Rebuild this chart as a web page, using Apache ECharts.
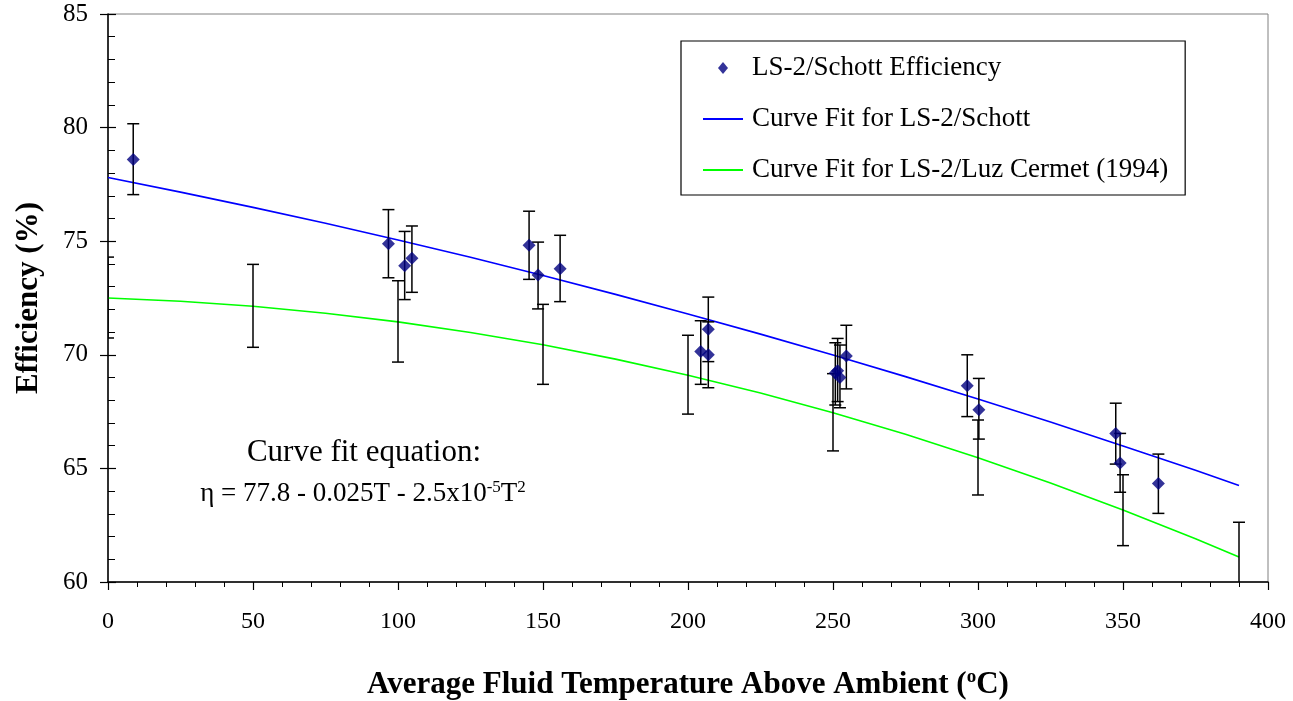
<!DOCTYPE html>
<html>
<head>
<meta charset="utf-8">
<script src="https://cdn.jsdelivr.net/npm/echarts@6/dist/echarts.min.js"></script>
<style>
html,body{margin:0;padding:0;background:#fff;overflow:hidden;width:1293px;height:701px;}
#chart{width:1293px;height:701px;display:block;}
</style>
</head>
<body>
<div id="chart"></div>
<script>
// ---- data ----
const schottT    = [8.7, 96.7, 102.3, 104.8, 145.2, 148.3, 155.9, 204.4, 207.0, 207.0, 250.8, 251.6, 252.4, 254.6, 296.3, 300.3, 347.5, 349.0, 362.2];
const schottEff  = [78.6, 74.89, 73.92, 74.25, 74.82, 73.51, 73.79, 70.15, 71.12, 70.0, 69.2, 69.3, 69.0, 69.95, 68.64, 67.58, 66.54, 65.24, 64.33];
const schottLow  = [77.05, 73.39, 72.43, 72.75, 73.32, 72.02, 72.34, 68.70, 69.70, 68.55, 67.79, 67.94, 67.67, 68.50, 67.28, 66.29, 65.19, 63.95, 63.02];
const schottHigh = [80.17, 76.39, 75.43, 75.67, 76.32, 74.96, 75.26, 71.50, 72.54, 71.45, 70.53, 70.72, 70.43, 71.30, 70.00, 68.96, 67.87, 66.54, 65.63];

const luzT    = [0, 50, 100, 150, 200, 250, 300, 350, 390];
const luzLow  = [70.74, 70.33, 69.68, 68.70, 67.39, 65.77, 63.83, 61.60, 59.55];
const luzHigh = [74.30, 73.98, 73.26, 72.22, 70.86, 69.17, 67.13, 64.72, 62.63];

const fitT      = [0, 25, 50, 75, 100, 125, 150, 175, 200, 225, 250, 275, 300, 325, 350, 375, 390];
const fitSchott = [77.80, 77.16, 76.49, 75.79, 75.05, 74.29, 73.49, 72.66, 71.80, 70.91, 69.99, 69.04, 68.05, 67.04, 65.99, 64.92, 64.25];
const fitLuz    = [72.50, 72.36, 72.14, 71.83, 71.45, 70.98, 70.44, 69.81, 69.10, 68.32, 67.45, 66.50, 65.47, 64.36, 63.17, 61.90, 61.10];

const seriesNames = ['LS-2/Schott Efficiency', 'Curve Fit for LS-2/Schott', 'Curve Fit for LS-2/Luz Cermet (1994)'];
const xTitle = 'Average Fluid Temperature Above Ambient (';
const yTitle = 'Efficiency (%)';

// ---- build ----
const serif = '"Liberation Serif", "DejaVu Serif", serif';
const pts = schottT.map((t, i) => [t, schottEff[i]]);
const schottBars = schottT.map((t, i) => [t, schottLow[i], schottHigh[i]]);
const luzBars = luzT.map((t, i) => [t, luzLow[i], luzHigh[i]]);
const fitS = fitT.map((t, i) => [t, fitSchott[i]]);
const fitL = fitT.map((t, i) => [t, fitLuz[i]]);

function errRender(params, api) {
  const x = api.value(0);
  const lo = api.coord([x, api.value(1)]);
  const hi = api.coord([x, api.value(2)]);
  const hw = 6;
  const style = { stroke: '#000', lineWidth: 1.5, fill: null };
  return {
    type: 'group',
    children: [
      { type: 'line', shape: { x1: lo[0], y1: lo[1], x2: hi[0], y2: hi[1] }, style: style },
      { type: 'line', shape: { x1: lo[0] - hw, y1: lo[1], x2: lo[0] + hw, y2: lo[1] }, style: style },
      { type: 'line', shape: { x1: hi[0] - hw, y1: hi[1], x2: hi[0] + hw, y2: hi[1] }, style: style }
    ]
  };
}

const diamondIcon = 'path://M5,0L10,6L5,12L0,6Z';
const lineIcon = 'path://M0,0L40,0L40,1.8L0,1.8Z';

const chart = echarts.init(document.getElementById('chart'), null, { renderer: 'canvas', width: 1293, height: 701 });
chart.setOption({
  backgroundColor: '#fff',
  animation: false,
  grid: { left: 108, right: 25, top: 14, bottom: 119, containLabel: false, outerBoundsMode: 'none',
          show: true, borderColor: '#808080', borderWidth: 1 },
  xAxis: {
    type: 'value', min: 0, max: 400, interval: 50,
    axisLine: { lineStyle: { color: '#000', width: 1.5 } },
    axisTick: { show: true, length: 8, lineStyle: { color: '#000', width: 1.2 } },
    minorTick: { show: true, splitNumber: 5, length: 5, lineStyle: { color: '#000', width: 1 } },
    splitLine: { show: false },
    axisLabel: { color: '#000', fontFamily: serif, fontSize: 24, margin: 28 },
    name: xTitle + '{sup|o}C)',
    nameLocation: 'middle', nameGap: 86,
    nameTextStyle: {
      color: '#000', fontFamily: serif, fontSize: 31, fontWeight: 'bold',
      rich: { sup: { fontFamily: serif, fontSize: 19, fontWeight: 'bold', verticalAlign: 'top', padding: [0, 0, 14, 0], color: '#000' } }
    }
  },
  yAxis: [{
    type: 'value', min: 60, max: 85, interval: 5,
    axisLine: { show: true, lineStyle: { color: '#000', width: 1.5 } },
    axisTick: { show: true, length: 8, lineStyle: { color: '#000', width: 1.2 } },
    splitLine: { show: false },
    axisLabel: { color: '#000', fontFamily: serif, fontSize: 25, margin: 20 },
    name: yTitle, nameLocation: 'middle', nameGap: 64, nameRotate: 90,
    nameTextStyle: { color: '#000', fontFamily: serif, fontSize: 31, fontWeight: 'bold' }
  }, {
    type: 'value', min: 60, max: 85, interval: 5, position: 'left',
    axisLine: { show: false },
    axisTick: { show: true, inside: true, length: 8, lineStyle: { color: '#000', width: 1.2 } },
    minorTick: { show: true, splitNumber: 5, length: 7, lineStyle: { color: '#000', width: 1 } },
    splitLine: { show: false },
    axisLabel: { show: false }
  }],
  legend: {
    data: [
      { name: seriesNames[0], icon: diamondIcon },
      { name: seriesNames[1], icon: lineIcon },
      { name: seriesNames[2], icon: lineIcon }
    ],
    orient: 'vertical',
    left: 681, top: 41,
    padding: [12, 17, 10, 22],
    itemWidth: 40, itemHeight: 12, itemGap: 21,
    symbolKeepAspect: true,
    borderColor: '#000', borderWidth: 1.2,
    backgroundColor: '#fff',
    textStyle: { color: '#000', fontFamily: serif, fontSize: 27, lineHeight: 30, padding: [0, 0, 0, 4] },
    selectedMode: false
  },
  graphic: [
    { type: 'text', x: 364, y: 453, style: { text: 'Curve fit equation:', font: '31px ' + serif, fill: '#000', textAlign: 'center', textVerticalAlign: 'middle' } },
    { type: 'text', x: 363, y: 494, style: {
        text: 'η = 77.8 - 0.025T - 2.5x10{sup|-5}T{sup|2}',
        font: '27px ' + serif, fill: '#000', textAlign: 'center', textVerticalAlign: 'middle',
        rich: { sup: { fontFamily: serif, fontSize: 17, verticalAlign: 'top', padding: [0, 0, 12, 0], fill: '#000' } }
    } }
  ],
  series: [
    {
      name: seriesNames[1], type: 'line', data: fitS, showSymbol: false, symbol: 'none',
      lineStyle: { color: '#0000ff', width: 1.6 }, itemStyle: { color: '#0000ff' }, z: 2
    },
    {
      name: seriesNames[2], type: 'line', data: fitL, showSymbol: false, symbol: 'none',
      lineStyle: { color: '#00ff00', width: 1.6 }, itemStyle: { color: '#00ff00' }, z: 2
    },
    { name: 'luzErr', type: 'custom', data: luzBars, renderItem: errRender, clip: true, z: 3 },
    { name: 'schottErr', type: 'custom', data: schottBars, renderItem: errRender, clip: true, z: 3 },
    {
      name: seriesNames[0], type: 'scatter', data: pts, symbol: 'diamond', symbolSize: 13,
      itemStyle: { color: '#000080' }, z: 5
    }
  ]
});
</script>
</body>
</html>
